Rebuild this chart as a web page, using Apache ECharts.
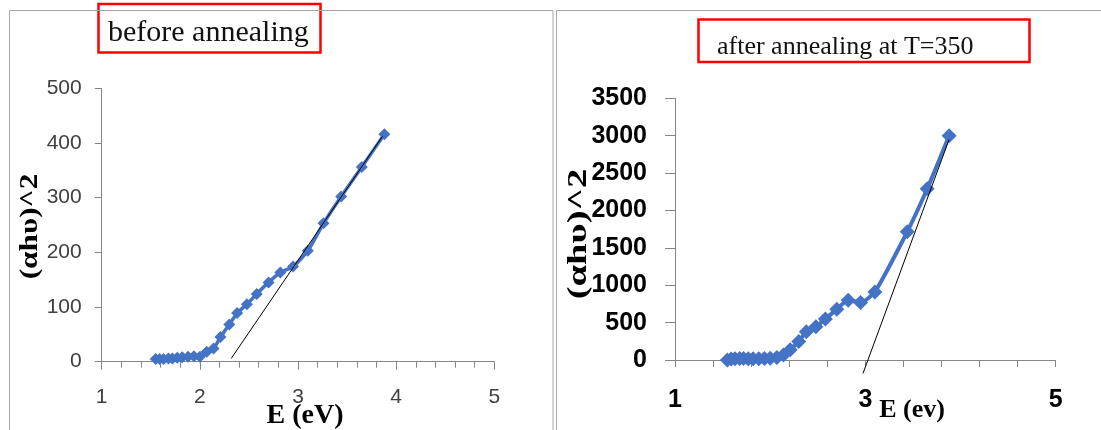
<!DOCTYPE html>
<html>
<head>
<meta charset="utf-8">
<script src="https://cdn.jsdelivr.net/npm/echarts@6/dist/echarts.min.js"></script>
<style>
html,body{margin:0;padding:0;background:#fff;}
#c{width:1101px;height:430px;}
</style>
</head>
<body>
<div id="c"></div>
<script>
// ---- data ----
const energyBefore = [1.55,1.59,1.63,1.68,1.72,1.77,1.82,1.88,1.94,2.00,2.07,2.14,2.21,2.30,2.38,2.48,2.58,2.70,2.82,2.95,3.10,3.26,3.44,3.65,3.88];
const absBefore    = [5,5,5,6,6,7,8,9,10,9,18,24,45,68,89,105,124,145,163,174,203,253,302,356,416];
const energyAfter  = [1.55,1.59,1.63,1.68,1.72,1.77,1.82,1.88,1.94,2.00,2.07,2.14,2.21,2.30,2.38,2.48,2.58,2.70,2.82,2.95,3.10,3.44,3.65,3.88];
const absAfter     = [0,12,18,20,20,18,18,18,20,25,35,67,138,249,378,444,547,680,800,770,911,1715,2290,3000];
const tangentBeforeE = [2.32, 3.86];
const tangentBeforeY = [6, 412];
const tangentAfterE  = [2.975, 3.88];
const tangentAfterY  = [-180, 2950];
const afterTickValues  = [1,1.4,1.8,2.2,2.6,3,3.4,3.8,4.2,4.6,5];
const afterLabelValues = [1,3,5];
const titleBefore = 'before annealing';
const titleAfter  = 'after annealing at T=350';
const yTitle = '(αhυ)^2';
const xTitleBefore = 'E (eV)';
const xTitleAfter  = 'E (ev)';

const zip = (a, b) => a.map((v, i) => [v, b[i]]);
const blue = '#4472C4';
const axisGray = '#868686';
const serif = '"Liberation Serif", "Times New Roman", serif';
const sans = 'Liberation Sans, Arial, sans-serif';

const chart = echarts.init(document.getElementById('c'), null, {renderer: 'canvas'});
chart.setOption({
  backgroundColor: '#fff',
  animation: false,
  grid: [
    {left: 101.7, right: 606.7, top: 88.3, bottom: 68.3},
    {left: 675, right: 45.3, top: 98.3, bottom: 70}
  ],
  xAxis: [
    {
      gridIndex: 0, type: 'value', min: 1, max: 5, interval: 1,
      axisLine: {show: true, onZero: false, lineStyle: {color: axisGray, width: 1}},
      axisTick: {show: true, inside: false, length: 8, lineStyle: {color: axisGray}},
      minorTick: {show: true, splitNumber: 5, length: 6, lineStyle: {color: axisGray}},
      splitLine: {show: false}, minorSplitLine: {show: false},
      axisLabel: {margin: 25, fontSize: 21, color: '#404040', fontFamily: sans}
    },
    {
      gridIndex: 1, type: 'value', min: 1, max: 5,
      axisLine: {show: true, onZero: false, lineStyle: {color: axisGray, width: 1}},
      axisTick: {show: true, inside: false, length: 7, customValues: afterTickValues, lineStyle: {color: axisGray}},
      splitLine: {show: false},
      axisLabel: {margin: 28, fontSize: 25, fontWeight: 'bold', color: '#000', customValues: afterLabelValues, fontFamily: sans}
    }
  ],
  yAxis: [
    {
      gridIndex: 0, type: 'value', min: 0, max: 500, interval: 100,
      axisLine: {show: true, onZero: false, lineStyle: {color: axisGray, width: 1}},
      axisTick: {show: true, inside: false, length: 7, lineStyle: {color: axisGray}},
      splitLine: {show: false},
      axisLabel: {margin: 20, fontSize: 21, color: '#404040', fontFamily: sans}
    },
    {
      gridIndex: 1, type: 'value', min: 0, max: 3500, interval: 500,
      axisLine: {show: true, onZero: false, lineStyle: {color: axisGray, width: 1}},
      axisTick: {show: true, inside: false, length: 10, lineStyle: {color: axisGray}},
      splitLine: {show: false},
      axisLabel: {margin: 28, fontSize: 25, fontWeight: 'bold', color: '#000', fontFamily: sans,
                  formatter: (v) => String(v)}
    }
  ],
  series: [
    {
      type: 'line', xAxisIndex: 0, yAxisIndex: 0,
      data: zip(energyBefore, absBefore),
      smooth: 0.2, symbol: 'diamond', symbolSize: 12,
      itemStyle: {color: blue}, lineStyle: {color: blue, width: 3.5}, z: 2
    },
    {
      type: 'line', xAxisIndex: 0, yAxisIndex: 0,
      data: zip(tangentBeforeE, tangentBeforeY),
      symbol: 'none', lineStyle: {color: '#000', width: 1}, clip: false, z: 3
    },
    {
      type: 'line', xAxisIndex: 1, yAxisIndex: 1,
      data: zip(energyAfter, absAfter),
      smooth: 0.2, symbol: 'diamond', symbolSize: 15,
      itemStyle: {color: blue}, lineStyle: {color: blue, width: 4}, z: 2
    },
    {
      type: 'line', xAxisIndex: 1, yAxisIndex: 1,
      data: zip(tangentAfterE, tangentAfterY),
      symbol: 'none', lineStyle: {color: '#000', width: 1}, clip: false, z: 3
    }
  ],
  graphic: [
    // red title boxes
    {type: 'rect', shape: {x: 98.5, y: 4, width: 222, height: 48.5}, style: {fill: 'none', stroke: '#ff0000', lineWidth: 2.5}, z: 10},
    {type: 'text', x: 108, y: 18.5, style: {text: titleBefore, font: '30px ' + serif, fill: '#111'}, z: 11},
    {type: 'rect', shape: {x: 698.5, y: 19.5, width: 331, height: 42.5}, style: {fill: 'none', stroke: '#ff0000', lineWidth: 2.5}, z: 10},
    {type: 'text', x: 717, y: 34, style: {text: titleAfter, font: '26px ' + serif, fill: '#111'}, z: 11},
    // panel borders
    {type: 'rect', shape: {x: 9.5, y: 10.5, width: 543.5, height: 440}, style: {fill: 'none', stroke: '#a6a6a6', lineWidth: 1}, z: 12},
    {type: 'rect', shape: {x: 556.5, y: 10.5, width: 560, height: 440}, style: {fill: 'none', stroke: '#a6a6a6', lineWidth: 1}, z: 12},
    // axis titles
    {type: 'text', x: 31, y: 226.5, rotation: Math.PI / 2, scaleX: 1.25, style: {text: yTitle, font: 'bold 25px ' + serif, fill: '#000', textAlign: 'center', textVerticalAlign: 'middle'}, z: 11},
    {type: 'text', x: 579, y: 234, rotation: Math.PI / 2, scaleX: 1.38, style: {text: yTitle, font: 'bold 28px ' + serif, fill: '#000', textAlign: 'center', textVerticalAlign: 'middle'}, z: 11},
    {type: 'text', x: 305, y: 401.5, style: {text: xTitleBefore, font: 'bold 28px ' + serif, fill: '#000', textAlign: 'center'}, z: 11},
    {type: 'text', x: 912, y: 397.5, style: {text: xTitleAfter, font: 'bold 26px ' + serif, fill: '#000', textAlign: 'center'}, z: 11}
  ]
});
</script>
</body>
</html>
